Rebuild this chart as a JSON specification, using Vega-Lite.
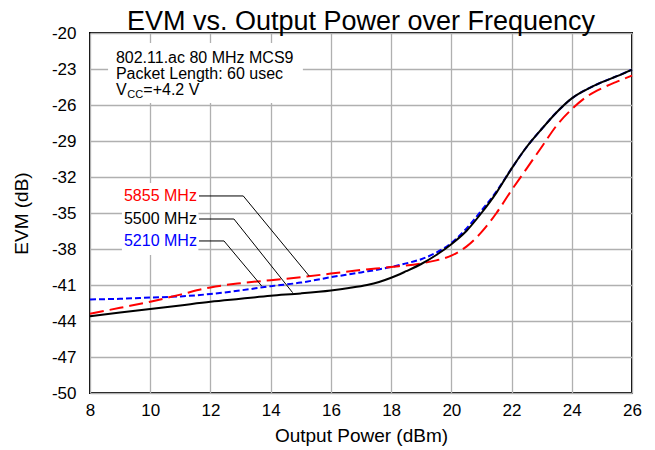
{
  "$schema": "https://vega.github.io/schema/vega-lite/v6.json",
  "width": 542,
  "height": 360,
  "autosize": {"type": "none"},
  "padding": {"left": 90, "top": 33, "right": 23, "bottom": 57},
  "title": {"text": "EVM vs. Output Power over Frequency", "fontSize": 27, "fontWeight": "normal", "anchor": "middle", "frame": "group", "offset": -12, "color": "black"},
  "config": {
    "font": "Liberation Sans",
    "view": {"stroke": "black", "strokeWidth": 2},
    "axis": {"grid": true, "gridColor": "#b0b0b0", "gridWidth": 1.3, "domain": false, "ticks": false, "labelFontSize": 17, "labelColor": "black", "labelOverlap": false, "labelFlush": false, "titleFontSize": 19, "titleFontWeight": "normal", "titleColor": "black", "labelExpr": "'' + datum.value"}
  },
  "datasets": {
    "curves": [
      {"f": "5210 MHz", "x": 8, "y": -42.2}, {"f": "5210 MHz", "x": 9, "y": -42.15}, {"f": "5210 MHz", "x": 10, "y": -42.05}, {"f": "5210 MHz", "x": 11, "y": -41.95}, {"f": "5210 MHz", "x": 12, "y": -41.75}, {"f": "5210 MHz", "x": 13, "y": -41.45}, {"f": "5210 MHz", "x": 14, "y": -41.1}, {"f": "5210 MHz", "x": 15, "y": -40.8}, {"f": "5210 MHz", "x": 16, "y": -40.35}, {"f": "5210 MHz", "x": 17, "y": -39.95}, {"f": "5210 MHz", "x": 18, "y": -39.5}, {"f": "5210 MHz", "x": 18.5, "y": -39.2}, {"f": "5210 MHz", "x": 19, "y": -38.85}, {"f": "5210 MHz", "x": 19.5, "y": -38.3}, {"f": "5210 MHz", "x": 20, "y": -37.5}, {"f": "5210 MHz", "x": 20.5, "y": -36.3}, {"f": "5210 MHz", "x": 21, "y": -34.8}, {"f": "5210 MHz", "x": 21.5, "y": -33.2}, {"f": "5210 MHz", "x": 22, "y": -31.3}, {"f": "5210 MHz", "x": 22.5, "y": -29.5}, {"f": "5210 MHz", "x": 23, "y": -28.0}, {"f": "5210 MHz", "x": 23.5, "y": -26.6}, {"f": "5210 MHz", "x": 24, "y": -25.45}, {"f": "5210 MHz", "x": 24.5, "y": -24.7}, {"f": "5210 MHz", "x": 25, "y": -24.1}, {"f": "5210 MHz", "x": 25.5, "y": -23.6}, {"f": "5210 MHz", "x": 26, "y": -23.05},
      {"f": "5855 MHz", "x": 8, "y": -43.4}, {"f": "5855 MHz", "x": 9, "y": -42.9}, {"f": "5855 MHz", "x": 10, "y": -42.4}, {"f": "5855 MHz", "x": 11, "y": -41.8}, {"f": "5855 MHz", "x": 12, "y": -41.2}, {"f": "5855 MHz", "x": 13, "y": -40.85}, {"f": "5855 MHz", "x": 14, "y": -40.6}, {"f": "5855 MHz", "x": 15, "y": -40.35}, {"f": "5855 MHz", "x": 16, "y": -40.05}, {"f": "5855 MHz", "x": 17, "y": -39.75}, {"f": "5855 MHz", "x": 18, "y": -39.5}, {"f": "5855 MHz", "x": 19, "y": -39.2}, {"f": "5855 MHz", "x": 19.5, "y": -38.95}, {"f": "5855 MHz", "x": 20, "y": -38.55}, {"f": "5855 MHz", "x": 20.5, "y": -37.8}, {"f": "5855 MHz", "x": 21, "y": -36.6}, {"f": "5855 MHz", "x": 21.5, "y": -35.0}, {"f": "5855 MHz", "x": 22, "y": -33.1}, {"f": "5855 MHz", "x": 22.5, "y": -31.3}, {"f": "5855 MHz", "x": 23, "y": -29.5}, {"f": "5855 MHz", "x": 23.5, "y": -27.7}, {"f": "5855 MHz", "x": 24, "y": -26.35}, {"f": "5855 MHz", "x": 24.5, "y": -25.3}, {"f": "5855 MHz", "x": 25, "y": -24.6}, {"f": "5855 MHz", "x": 25.5, "y": -24.05}, {"f": "5855 MHz", "x": 26, "y": -23.55},
      {"f": "5500 MHz", "x": 8, "y": -43.6}, {"f": "5500 MHz", "x": 9, "y": -43.3}, {"f": "5500 MHz", "x": 10, "y": -43.0}, {"f": "5500 MHz", "x": 11, "y": -42.7}, {"f": "5500 MHz", "x": 12, "y": -42.4}, {"f": "5500 MHz", "x": 13, "y": -42.15}, {"f": "5500 MHz", "x": 14, "y": -41.9}, {"f": "5500 MHz", "x": 15, "y": -41.7}, {"f": "5500 MHz", "x": 16, "y": -41.45}, {"f": "5500 MHz", "x": 16.6, "y": -41.25}, {"f": "5500 MHz", "x": 17.2, "y": -41.0}, {"f": "5500 MHz", "x": 17.6, "y": -40.75}, {"f": "5500 MHz", "x": 18, "y": -40.4}, {"f": "5500 MHz", "x": 18.5, "y": -39.85}, {"f": "5500 MHz", "x": 19, "y": -39.25}, {"f": "5500 MHz", "x": 19.5, "y": -38.5}, {"f": "5500 MHz", "x": 20, "y": -37.6}, {"f": "5500 MHz", "x": 20.5, "y": -36.5}, {"f": "5500 MHz", "x": 21, "y": -35.0}, {"f": "5500 MHz", "x": 21.5, "y": -33.3}, {"f": "5500 MHz", "x": 22, "y": -31.3}, {"f": "5500 MHz", "x": 22.5, "y": -29.5}, {"f": "5500 MHz", "x": 23, "y": -28.0}, {"f": "5500 MHz", "x": 23.5, "y": -26.6}, {"f": "5500 MHz", "x": 24, "y": -25.45}, {"f": "5500 MHz", "x": 24.5, "y": -24.7}, {"f": "5500 MHz", "x": 25, "y": -24.1}, {"f": "5500 MHz", "x": 25.5, "y": -23.6}, {"f": "5500 MHz", "x": 26, "y": -23.05}
    ],
    "boxes": [
      {"x": 8.6, "x2": 15.07, "y": -20.83, "y2": -25.83},
      {"x": 9.06, "x2": 11.6, "y": -32.5, "y2": -38.5}
    ],
    "leaders": [
      {"id": "5855 MHz", "o": 1, "x": 11.62, "y": -33.58}, {"id": "5855 MHz", "o": 2, "x": 13.09, "y": -33.58}, {"id": "5855 MHz", "o": 3, "x": 15.28, "y": -40.25},
      {"id": "5500 MHz", "o": 1, "x": 11.62, "y": -35.5}, {"id": "5500 MHz", "o": 2, "x": 12.78, "y": -35.5}, {"id": "5500 MHz", "o": 3, "x": 14.73, "y": -41.64},
      {"id": "5210 MHz", "o": 1, "x": 11.62, "y": -37.33}, {"id": "5210 MHz", "o": 2, "x": 12.45, "y": -37.33}, {"id": "5210 MHz", "o": 3, "x": 13.7, "y": -41.08}
    ],
    "labels": [
      {"f": "5855 MHz", "x": 11.55, "y": -33.58},
      {"f": "5500 MHz", "x": 11.55, "y": -35.5},
      {"f": "5210 MHz", "x": 11.55, "y": -37.33}
    ],
    "notes": [
      {"t": "802.11.ac 80 MHz MCS9", "x": 8.86, "y": -22.525},
      {"t": "Packet Length: 60 usec", "x": 8.86, "y": -23.83},
      {"t": "V", "x": 8.86, "y": -25.17},
      {"t": "=+4.2 V", "x": 9.77, "y": -25.17}
    ],
    "subs": [
      {"t": "CC", "x": 9.24, "y": -25.42}
    ]
  },
  "layer": [
    {
      "data": {"name": "boxes"},
      "mark": {"type": "rect", "fill": "white", "strokeWidth": 0},
      "encoding": {
        "x": {"field": "x", "type": "quantitative", "scale": {"domain": [8, 26], "nice": false}, "axis": {"values": [8, 10, 12, 14, 16, 18, 20, 22, 24, 26], "tickCount": 12, "title": "Output Power (dBm)", "labelPadding": 9, "titlePadding": 8}},
        "x2": {"field": "x2"},
        "y": {"field": "y", "type": "quantitative", "scale": {"domain": [-50, -20], "nice": false}, "axis": {"values": [-50, -47, -44, -41, -38, -35, -32, -29, -26, -23, -20], "tickCount": 12, "title": "EVM (dB)", "labelPadding": 14, "titlePadding": 20}},
        "y2": {"field": "y2"}
      }
    },
    {
      "data": {"name": "curves"},
      "transform": [{"filter": "datum.f == '5210 MHz'"}],
      "mark": {"type": "line", "interpolate": "monotone", "stroke": "#0000ff", "strokeWidth": 2, "strokeDash": [6, 3]},
      "encoding": {"x": {"field": "x", "type": "quantitative"}, "y": {"field": "y", "type": "quantitative"}}
    },
    {
      "data": {"name": "curves"},
      "transform": [{"filter": "datum.f == '5855 MHz'"}],
      "mark": {"type": "line", "interpolate": "monotone", "stroke": "#ff0000", "strokeWidth": 2, "strokeDash": [14, 6]},
      "encoding": {"x": {"field": "x", "type": "quantitative"}, "y": {"field": "y", "type": "quantitative"}}
    },
    {
      "data": {"name": "curves"},
      "transform": [{"filter": "datum.f == '5500 MHz'"}],
      "mark": {"type": "line", "interpolate": "monotone", "stroke": "black", "strokeWidth": 2},
      "encoding": {"x": {"field": "x", "type": "quantitative"}, "y": {"field": "y", "type": "quantitative"}}
    },
    {
      "data": {"name": "leaders"},
      "mark": {"type": "line", "stroke": "black", "strokeWidth": 1},
      "encoding": {"x": {"field": "x", "type": "quantitative"}, "y": {"field": "y", "type": "quantitative"}, "detail": {"field": "id"}, "order": {"field": "o"}}
    },
    {
      "data": {"name": "labels"},
      "mark": {"type": "text", "align": "right", "baseline": "middle", "fontSize": 16},
      "encoding": {
        "x": {"field": "x", "type": "quantitative"},
        "y": {"field": "y", "type": "quantitative"},
        "text": {"field": "f"},
        "color": {"field": "f", "type": "nominal", "scale": {"domain": ["5855 MHz", "5500 MHz", "5210 MHz"], "range": ["#ff0000", "#000000", "#0000ff"]}, "legend": null}
      }
    },
    {
      "data": {"name": "notes"},
      "mark": {"type": "text", "align": "left", "baseline": "alphabetic", "fontSize": 16, "color": "black"},
      "encoding": {"x": {"field": "x", "type": "quantitative"}, "y": {"field": "y", "type": "quantitative"}, "text": {"field": "t"}}
    },
    {
      "data": {"name": "subs"},
      "mark": {"type": "text", "align": "left", "baseline": "alphabetic", "fontSize": 11, "color": "black"},
      "encoding": {"x": {"field": "x", "type": "quantitative"}, "y": {"field": "y", "type": "quantitative"}, "text": {"field": "t"}}
    }
  ]
}
